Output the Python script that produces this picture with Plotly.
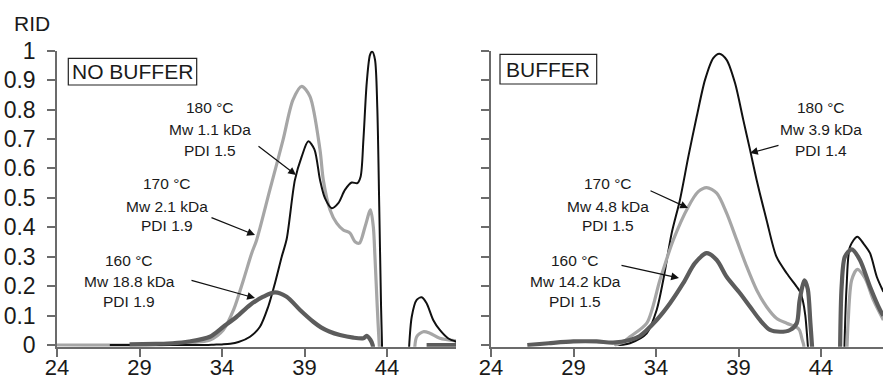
import plotly.graph_objects as go

# ---------------- data ----------------
x_ticks = [24, 29, 34, 39, 44]
y_ticks = [0, 0.1, 0.2, 0.3, 0.4, 0.5, 0.6, 0.7, 0.8, 0.9, 1]
y_tick_text = ["0", "0.1", "0.2", "0.3", "0.4", "0.5", "0.6", "0.7", "0.8", "0.9", "1"]

# NO BUFFER panel
nb180_x = [27.2, 30, 33, 33.5, 34, 34.5, 35, 35.7, 36.3, 36.8, 37.21, 37.62, 37.92, 38.42, 38.83, 39.23,
           39.6, 39.94, 40.24, 40.65, 41.05, 41.45, 41.86, 42.2, 42.4, 42.57, 42.77, 42.97, 43.1, 43.27,
           43.41, 43.53, 43.64, 43.72, None,
           45.3, 45.5, 45.8, 46.1, 46.4, 46.8, 47.2, 47.7, 48.2]
nb180_y = [0, 0, 0, 0.001, 0.002, 0.004, 0.01, 0.028, 0.062, 0.13, 0.21, 0.30, 0.36, 0.561, 0.64, 0.692,
           0.665, 0.561, 0.499, 0.465, 0.482, 0.527, 0.552, 0.55, 0.572, 0.697, 0.89, 0.986, 0.997, 0.97,
           0.81, 0.47, 0.13, -0.05, None,
           -0.05, 0.096, 0.153, 0.162, 0.142, 0.085, 0.051, 0.023, 0.011]

nb170_x = [24, 30, 31, 32, 33.27, 34.08, 34.7, 35.3, 35.8, 36.1, 36.9, 37.7, 38.3, 38.83, 39.33, 39.94,
           40.14, 40.55, 40.95, 41.35, 41.76, 42.06, 42.33, 42.67, 43.0, 43.17, 43.27, 43.41, 43.53, 43.6, None,
           45.65, 45.8, 46.2, 46.6, 47.2, 48.2]
nb170_y = [0, 0, 0.003, 0.007, 0.017, 0.051, 0.119, 0.221, 0.312, 0.357, 0.527, 0.697, 0.833, 0.879, 0.845, 0.663,
           0.561, 0.459, 0.414, 0.391, 0.38, 0.351, 0.346, 0.402, 0.459, 0.402, 0.30, 0.13, 0.0, -0.05, None,
           -0.05, 0.028, 0.045, 0.04, 0.023, 0.014]

nb160_x = [28.4, 30, 31, 32, 33.27, 34.08, 34.89, 35.7, 36.5, 37.21, 37.92, 38.73, 39.53, 40.0, 40.5,
           41.15, 41.96, 42.57, 42.77, 43.0, 43.13, 43.2, None, 46.4, 48.2]
nb160_y = [0.002, 0.004, 0.006, 0.012, 0.028, 0.062, 0.096, 0.136, 0.164, 0.179, 0.164, 0.119, 0.079, 0.06, 0.046,
           0.034, 0.025, 0.023, 0.031, 0.017, 0.0, -0.05, None, 0, 0]

# BUFFER panel
b180_x = [31.5, 32, 32.42, 33.44, 34.04, 34.44, 34.95, 35.45, 35.96, 36.47, 36.97, 37.47, 37.84, 38.28,
          38.79, 39.29, 39.7, 40.1, 40.7, 41.3, 41.92, 42.53, 42.73, 42.9, 43.05, 43.2, 43.28, None,
          45.4, 45.55, 45.76, 46.2, 46.57, 46.97, 47.38, 47.78]
b180_y = [0, 0.001, 0.006, 0.04, 0.119, 0.221, 0.38, 0.493, 0.64, 0.777, 0.901, 0.975, 0.99, 0.969,
          0.89, 0.765, 0.663, 0.561, 0.425, 0.30, 0.244, 0.198, 0.181, 0.15, 0.10, 0.0, -0.05, None,
          -0.05, 0.198, 0.334, 0.368, 0.345, 0.312, 0.232, 0.181]

b170_x = [31.5, 32, 32.42, 33.44, 34.24, 35.05, 35.96, 36.56, 37.07, 37.68, 38.28, 38.89, 39.5, 40.1,
          40.7, 41.3, 41.92, 42.53, 42.7, 42.85, 42.95, 43.0, None,
          45.55, 45.65, 45.86, 46.2, 46.67, 47.17, 47.78]
b170_y = [0, 0.01, 0.028, 0.074, 0.221, 0.357, 0.47, 0.521, 0.535, 0.516, 0.448, 0.357, 0.266, 0.187,
          0.13, 0.091, 0.074, 0.06, 0.05, 0.02, 0.0, -0.05, None,
          -0.05, 0.085, 0.221, 0.257, 0.227, 0.153, 0.085]

b160_x = [26.2, 27.5, 29, 30.4, 31.4, 32.42, 33.0, 34.04, 34.85, 35.65, 36.36, 37.07, 37.68, 38.28, 39.09,
          39.7, 40.3, 40.91, 41.52, 42.12, 42.53, 42.7, 43.0, 43.2, 43.35, 43.45, 43.5, None,
          45.15, 45.25, 45.45, 45.86, 46.36, 46.97, 47.58, 47.78]
b160_y = [0, 0.006, 0.012, 0.012, 0.008, 0.017, 0.03, 0.085, 0.142, 0.21, 0.278, 0.312, 0.289, 0.232, 0.176,
          0.13, 0.085, 0.051, 0.045, 0.051, 0.074, 0.15, 0.22, 0.19, 0.08, 0.0, -0.05, None,
          -0.05, 0.198, 0.30, 0.325, 0.289, 0.198, 0.119, 0.10]

labels_nb = [["180 °C", "Mw 1.1 kDa", "PDI 1.5"],
             ["170 °C", "Mw 2.1 kDa", "PDI 1.9"],
             ["160 °C", "Mw 18.8 kDa", "PDI 1.9"]]
labels_b = [["180 °C", "Mw 3.9 kDa", "PDI 1.4"],
            ["170 °C", "Mw 4.8 kDa", "PDI 1.5"],
            ["160 °C", "Mw 14.2 kDa", "PDI 1.5"]]

# ---------------- styling ----------------
W, H = 883, 380
FONT = "Liberation Sans, Arial, Helvetica, sans-serif"
BLACK = "#111111"
LIGHT = "#a6a6a6"
DARK = "#5c5c5c"
AXC = "#6b6b6b"

fig = go.Figure()

def add(x, y, color, width, xa, ya):
    fig.add_trace(go.Scatter(x=x, y=y, mode="lines", xaxis=xa, yaxis=ya,
                             line=dict(color=color, width=width, shape="spline", smoothing=0.8),
                             connectgaps=False, showlegend=False, hoverinfo="skip"))

# left panel
add(nb170_x, nb170_y, LIGHT, 3.2, "x", "y")
add(nb180_x, nb180_y, BLACK, 2.0, "x", "y")
add(nb160_x, nb160_y, DARK, 4.2, "x", "y")
# right panel
add(b180_x, b180_y, BLACK, 2.0, "x2", "y2")
add(b170_x, b170_y, LIGHT, 3.2, "x2", "y2")
add(b160_x, b160_y, DARK, 4.2, "x2", "y2")

# pixel geometry
left_px = (57, 456)
right_px = (491, 883)
px_per_unit = 16.5
y_top_px, y0_px, px_per_y = 50.7, 345.0, 294.0
ymin = -0.006
y_bottom_px = y0_px - ymin * px_per_y

def xr(pxs):
    return [24, 24 + (pxs[1] - pxs[0]) / px_per_unit]

ydom = [1 - y_bottom_px / H, 1 - y_top_px / H]

axis_common = dict(showline=True, linecolor=AXC, linewidth=1.5, ticks="outside", ticklen=8,
                   tickwidth=1.5, tickcolor=AXC, showgrid=False, zeroline=False, automargin=False,
                   tickfont=dict(family=FONT, size=23, color="#1a1a1a"))
xtickfont = dict(family=FONT, size=22, color="#1a1a1a")

fig.update_layout(
    template="none",
    width=W, height=H, margin=dict(l=0, r=0, t=0, b=0, pad=0), autosize=False,
    paper_bgcolor="white", plot_bgcolor="white",
    font=dict(family=FONT, color="#1a1a1a"),
    xaxis=dict(domain=[left_px[0] / W, left_px[1] / W], range=xr(left_px), tickvals=x_ticks,
               anchor="y", ticklabelstandoff=-8, **{**axis_common, "tickfont": xtickfont}),
    yaxis=dict(domain=ydom, range=[ymin, 1.0], tickvals=y_ticks, ticktext=y_tick_text,
               anchor="x", ticklabelstandoff=7, **axis_common),
    xaxis2=dict(domain=[right_px[0] / W, right_px[1] / W], range=xr(right_px), tickvals=x_ticks,
                anchor="y2", ticklabelstandoff=-8, **{**axis_common, "tickfont": xtickfont}),
    yaxis2=dict(domain=ydom, range=[ymin, 1.0], tickvals=y_ticks, showticklabels=False,
                anchor="x2", **axis_common),
)

ann = []
def ptext(px, py, text, size=15.5):
    ann.append(dict(xref="paper", yref="paper", x=px / W, y=1 - py / H, text=text, showarrow=False,
                    xanchor="center", yanchor="middle", font=dict(family=FONT, size=size, color="#1a1a1a")))

def arrow(tx, ty, hx, hy):
    ann.append(dict(xref="paper", yref="paper", x=hx / W, y=1 - hy / H, ax=tx - hx, ay=ty - hy,
                    axref="pixel", ayref="pixel", text="", showarrow=True, arrowhead=2,
                    arrowsize=1.3, arrowwidth=1.2, arrowcolor="#111111"))

ptext(31.7, 24, "RID", 21)
ptext(132.5, 71.7, "NO BUFFER", 21)
ptext(548.3, 69.2, "BUFFER", 21)

label_pos_nb = [(210, [106, 129, 149]), (166.7, [183, 205, 225]), (129.3, [259, 280, 300])]
label_pos_b = [(820.8, [106, 128.3, 149]), (608.3, [182, 205, 225]), (575, [259, 280, 300])]
for lines, (cx, ys) in zip(labels_nb, label_pos_nb):
    for t, yy in zip(lines, ys):
        ptext(cx, yy + 1, t)
for lines, (cx, ys) in zip(labels_b, label_pos_b):
    for t, yy in zip(lines, ys):
        ptext(cx, yy + 1, t)

arrow(257, 145, 296, 175)
arrow(210, 217, 255, 235)
arrow(190, 280, 255, 298)
arrow(780, 145, 750, 153)
arrow(649, 190, 688, 208)
arrow(620, 265, 679, 278)

fig.update_layout(
    annotations=ann,
    shapes=[
        dict(type="rect", xref="paper", yref="paper", x0=68.3 / W, x1=196.7 / W, y0=1 - 85 / H, y1=1 - 58.3 / H,
             line=dict(color="#222222", width=1.2)),
        dict(type="rect", xref="paper", yref="paper", x0=500 / W, x1=596.7 / W, y0=1 - 84 / H, y1=1 - 54.3 / H,
             line=dict(color="#222222", width=1.2)),
    ],
)

fig.write_html("out.html")
